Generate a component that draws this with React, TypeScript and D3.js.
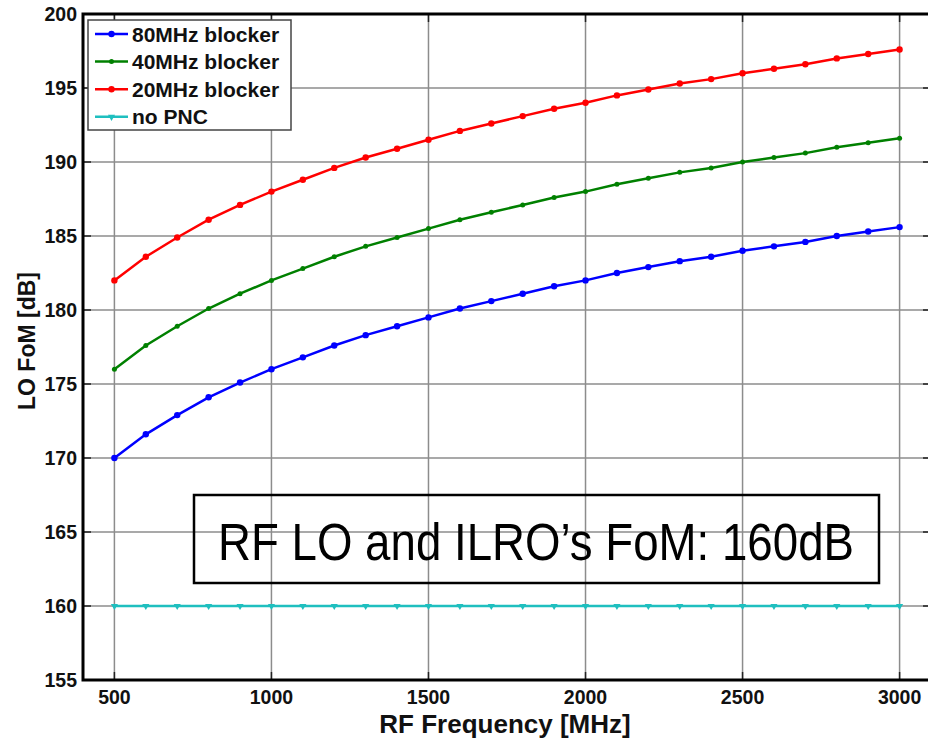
import React from 'react';
import * as d3 from 'd3';

// RF frequency (MHz) sample points
const freqs = [500, 600, 700, 800, 900, 1000, 1100, 1200, 1300, 1400, 1500, 1600, 1700,
  1800, 1900, 2000, 2100, 2200, 2300, 2400, 2500, 2600, 2700, 2800, 2900, 3000];

const blocker80 = [170.0, 171.6, 172.9, 174.1, 175.1, 176.0, 176.8, 177.6, 178.3, 178.9, 179.5, 180.1, 180.6,
  181.1, 181.6, 182.0, 182.5, 182.9, 183.3, 183.6, 184.0, 184.3, 184.6, 185.0, 185.3, 185.6];
const blocker40 = [176.0, 177.6, 178.9, 180.1, 181.1, 182.0, 182.8, 183.6, 184.3, 184.9, 185.5, 186.1, 186.6,
  187.1, 187.6, 188.0, 188.5, 188.9, 189.3, 189.6, 190.0, 190.3, 190.6, 191.0, 191.3, 191.6];
const blocker20 = [182.0, 183.6, 184.9, 186.1, 187.1, 188.0, 188.8, 189.6, 190.3, 190.9, 191.5, 192.1, 192.6,
  193.1, 193.6, 194.0, 194.5, 194.9, 195.3, 195.6, 196.0, 196.3, 196.6, 197.0, 197.3, 197.6];
const noPNC = [160, 160, 160, 160, 160, 160, 160, 160, 160, 160, 160, 160, 160,
  160, 160, 160, 160, 160, 160, 160, 160, 160, 160, 160, 160, 160];

const xTicks = [500, 1000, 1500, 2000, 2500, 3000];
const yTicks = [155, 160, 165, 170, 175, 180, 185, 190, 195, 200];

const seriesNames = ['80MHz blocker', '40MHz blocker', '20MHz blocker', 'no PNC'];
const seriesValues = [blocker80, blocker40, blocker20, noPNC];
const seriesColors = ['#0000ff', '#008000', '#ff0000', '#1fbfbf'];

const annotation = 'RF LO and ILRO\u2019s FoM: 160dB';

const width = 928;
const height = 740;
const font = 'Liberation Sans, Arial, sans-serif';

export default function App() {
  const x = d3.scaleLinear().domain([400, 3100]).range([83, 931]);
  const y = d3.scaleLinear().domain([155, 200]).range([680, 14]);

  const line = d3.line<number>()
    .x((_, i) => x(freqs[i]))
    .y(d => y(d));

  const marker = (k: number, cx: number, cy: number, key: string) => {
    const c = seriesColors[k];
    if (k === 3) {
      const tri = d3.symbol(d3.symbolTriangle, 22)();
      return <path key={key} d={tri || ''} transform={`translate(${cx},${cy}) rotate(180)`} fill={c} />;
    }
    return <circle key={key} cx={cx} cy={cy} r={k === 1 ? 2.5 : 3.2} fill={c} />;
  };

  const [x0, x1] = x.range();
  const [y0, y1] = y.range();

  return (
    <svg width={width} height={height} style={{ position: 'absolute', left: 0, top: 0, background: '#fff' }}
      fontFamily={font}>
      {/* grid */}
      <g stroke="#8c8c8c" strokeWidth={1.5}>
        {xTicks.map(t => <line key={'gx' + t} x1={x(t)} x2={x(t)} y1={y1} y2={y0} />)}
        {yTicks.map(t => <line key={'gy' + t} x1={x0} x2={x1} y1={y(t)} y2={y(t)} />)}
      </g>
      {/* ticks (inside) */}
      <g stroke="#222" strokeWidth={1.5}>
        {xTicks.map(t => <line key={'tb' + t} x1={x(t)} x2={x(t)} y1={y0} y2={y0 - 8} />)}
        {xTicks.map(t => <line key={'tt' + t} x1={x(t)} x2={x(t)} y1={y1} y2={y1 + 8} />)}
        {yTicks.map(t => <line key={'tl' + t} x1={x0} x2={x0 + 8} y1={y(t)} y2={y(t)} />)}
        {yTicks.map(t => <line key={'tr' + t} x1={x1 - 8} x2={x1} y1={y(t)} y2={y(t)} />)}
      </g>
      {/* series */}
      {seriesValues.map((vals, k) => (
        <g key={'s' + k}>
          <path d={line(vals) || ''} fill="none" stroke={seriesColors[k]} strokeWidth={2.5} />
          {vals.map((v, i) => marker(k, x(freqs[i]), y(v), `m${k}-${i}`))}
        </g>
      ))}
      {/* frame */}
      <rect x={x0} y={y1} width={x1 - x0} height={y0 - y1} fill="none" stroke="#000" strokeWidth={3} />
      {/* tick labels */}
      <g fontSize={19.5} fontWeight="bold" fill="#111">
        {xTicks.map(t => (
          <text key={'lx' + t} x={x(t)} y={704} textAnchor="middle">{t}</text>
        ))}
        {yTicks.map(t => (
          <text key={'ly' + t} x={x0 - 6} y={y(t) + 7} textAnchor="end">{t}</text>
        ))}
      </g>
      {/* axis titles */}
      <text x={505} y={733} textAnchor="middle" fontSize={26} fontWeight="bold" fill="#111">
        RF Frequency [MHz]
      </text>
      <text transform={`translate(35,341) rotate(-90)`} textAnchor="middle" fontSize={23}
        fontWeight="bold" fill="#111">LO FoM [dB]</text>
      {/* legend */}
      <g>
        <rect x={88} y={20} width={203} height={110} fill="#fff" stroke="#444" strokeWidth={1.5} />
        {seriesNames.map((name, k) => {
          const ly = 34 + k * 27.6;
          return (
            <g key={'lg' + k}>
              <line x1={95} x2={128} y1={ly} y2={ly} stroke={seriesColors[k]} strokeWidth={2.5} />
              {marker(k, 111.5, ly, 'lm' + k)}
              <text x={132} y={ly + 7.5} fontSize={21} fontWeight="bold" fill="#111">{name}</text>
            </g>
          );
        })}
      </g>
      {/* annotation */}
      <rect x={194} y={495} width={685} height={88} fill="none" stroke="#000" strokeWidth={2.5} />
      <text transform="translate(536,560) scale(0.878,1)" textAnchor="middle" fontSize={52} fill="#000">
        {annotation}
      </text>
    </svg>
  );
}
